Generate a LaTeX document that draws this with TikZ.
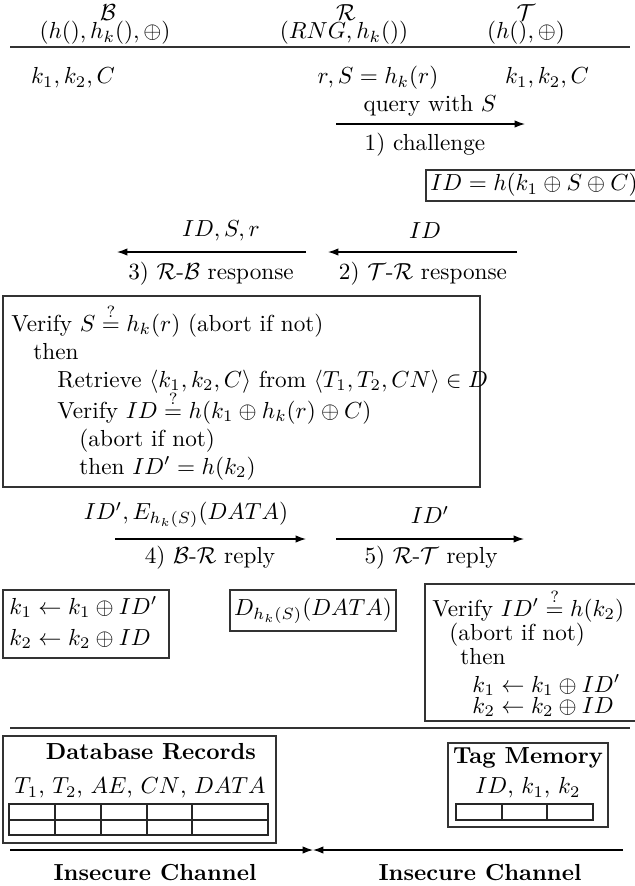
\documentclass[tikz,border=0pt]{standalone}
\usepackage{amsmath,amssymb}
\usetikzlibrary{arrows.meta}
\begin{document}
\begin{tikzpicture}[x=0.431pt,y=-0.431pt,
  lbl/.style={inner sep=0pt, anchor=center},
  ln/.style={inner sep=0pt, anchor=base west},
  msg/.style={-{Latex[length=4.5pt,width=3.2pt]}, line width=0.5pt},
  frame/.style={draw=black!80, line width=0.6pt},
  rulel/.style={line width=0.6pt, draw=black!80},
  cell/.style={line width=0.6pt, draw=black!85}]
\useasboundingbox (0,0) rectangle (635,886);
% header
\node[lbl] (Bn) at (108,13) {$\mathcal{B}$};
\node[lbl] (Bt) at (105,33) {$(h(),h_k(),\oplus)$};
\node[lbl] (Rn) at (346,13) {$\mathcal{R}$};
\node[lbl] (Rt) at (344,33) {$(RNG,h_k())$};
\node[lbl] (Tn) at (526,13) {$\mathcal{T}$};
\node[lbl] (Tt) at (526,33) {$(h(),\oplus)$};
\coordinate (h1) at (10,47); \coordinate (h2) at (630,47);
\draw[rulel] (h1) -- (h2);
\node[lbl] (Bk) at (73,78) {$k_1,k_2,C$};
\node[lbl] (Rk) at (378,78) {$r,S=h_k(r)$};
\node[lbl] (Tk) at (547,78) {$k_1,k_2,C$};
% 1) challenge
\coordinate (a1s) at (336,124); \coordinate (a1e) at (525,124);
\draw[msg] (a1s) -- (a1e);
\node[lbl] (a1t) at (430,106) {query with $S$};
\node[lbl] (a1b) at (425,145) {1) challenge};
\draw[frame] (426,170) rectangle (640,201);
\node[lbl, anchor=west] (idb) at (430,185) {$ID=h(k_1\oplus S\oplus C)$};
% 2) and 3)
\coordinate (a3s) at (306,252); \coordinate (a3e) at (117,252);
\draw[msg] (a3s) -- (a3e);
\coordinate (a2s) at (517,252); \coordinate (a2e) at (328,252);
\draw[msg] (a2s) -- (a2e);
\node[lbl] (a3t) at (221,231) {$ID,S,r$};
\node[lbl] (a2t) at (425,231) {$ID$};
\node[lbl] (a3b) at (211,274) {3) $\mathcal{R}$-$\mathcal{B}$ response};
\node[lbl] (a2b) at (423,274) {2) $\mathcal{T}$-$\mathcal{R}$ response};
% verify box (B)
\draw[frame] (3,296) rectangle (480,487);
\node[ln] (v1) at (11,331) {Verify $S\stackrel{?}{=}h_k(r)$ (abort if not)};
\node[ln] (v2) at (33,359) {then};
\node[ln] (v3) at (57,387) {Retrieve $\langle k_1,k_2,C\rangle$ from $\langle T_1,T_2,CN\rangle\in D$};
\node[ln] (v4) at (57,418) {Verify $ID\stackrel{?}{=}h(k_1\oplus h_k(r)\oplus C)$};
\node[ln] (v5) at (79,446) {(abort if not)};
\node[ln] (v6) at (79,474) {then $ID'=h(k_2)$};
% 4) and 5)
\coordinate (a4s) at (115,539); \coordinate (a4e) at (306,539);
\draw[msg] (a4s) -- (a4e);
\coordinate (a5s) at (336,539); \coordinate (a5e) at (524,539);
\draw[msg] (a5s) -- (a5e);
\node[lbl] (a4t) at (186,515) {$ID',E_{h_k(S)}(DATA)$};
\node[lbl] (a5t) at (430,515) {$ID'$};
\node[lbl] (a4b) at (210,558) {4) $\mathcal{B}$-$\mathcal{R}$ reply};
\node[lbl] (a5b) at (431,558) {5) $\mathcal{R}$-$\mathcal{T}$ reply};
% lower boxes
\draw[frame] (3,590) rectangle (169,658);
\node[ln] (k1l) at (9,614) {$k_1\leftarrow k_1\oplus ID'$};
\node[ln] (k2l) at (9,645) {$k_2\leftarrow k_2\oplus ID$};
\draw[frame] (230,590) rectangle (396,631);
\node[lbl] (dd) at (313,611) {$D_{h_k(S)}(DATA)$};
\draw[frame] (425,584) rectangle (640,721);
\node[ln] (w1) at (432,616) {Verify $ID'\stackrel{?}{=}h(k_2)$};
\node[ln] (w2) at (449,640) {(abort if not)};
\node[ln] (w3) at (460,664) {then};
\node[ln] (w4) at (472,692) {$k_1\leftarrow k_1\oplus ID'$};
\node[ln] (w5) at (472,713) {$k_2\leftarrow k_2\oplus ID$};
% separator
\coordinate (s1) at (10,728); \coordinate (s2) at (630,728);
\draw[rulel] (s1) -- (s2);
% database
\draw[frame] (3,736) rectangle (276,843);
\node[lbl] (dbt) at (151,752) {\bfseries Database Records};
\node[lbl] (dbf) at (140,788) {$T_1$, $T_2$, $AE$, $CN$, $DATA$};
\draw[cell] (9,804) rectangle (268,835);
\draw[cell, line width=1pt] (9,820) -- (268,820);
\foreach \cx in {55,101,147,192} \draw[cell] (\cx,804) -- (\cx,835);
% tag memory
\draw[frame] (448,743) rectangle (608,827);
\node[lbl] (tmt) at (528,758) {\bfseries Tag Memory};
\node[lbl] (tmf) at (528,788) {$ID$, $k_1$, $k_2$};
\draw[cell] (456,804) rectangle (593,820);
\foreach \cx in {502,547} \draw[cell] (\cx,804) -- (\cx,820);
% insecure channel
\coordinate (c1) at (10,850); \coordinate (cm) at (313,850); \coordinate (c2) at (623,850);
\draw[msg] (c1) -- (cm);
\draw[msg] (c2) -- (cm);
\node[lbl] (ic1) at (155,873) {\bfseries Insecure Channel};
\node[lbl] (ic2) at (480,873) {\bfseries Insecure Channel};
\end{tikzpicture}
\end{document}
